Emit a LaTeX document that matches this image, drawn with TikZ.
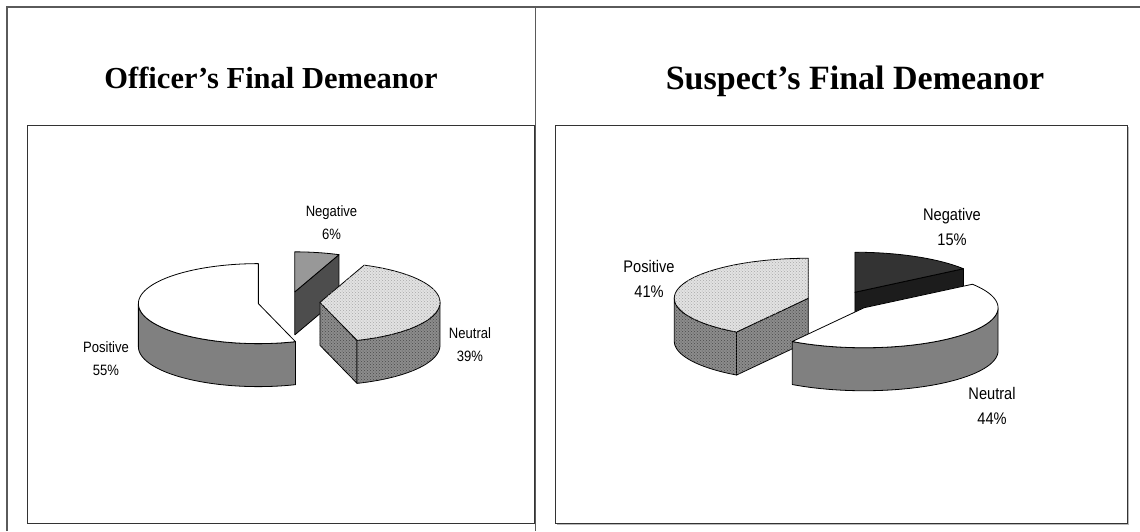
\documentclass[tikz,border=0pt]{standalone}
\usepackage{fontspec}
\setmainfont{Liberation Serif}
\newfontfamily\labelfont{Liberation Sans}
\usetikzlibrary{patterns}

\definecolor{tableline}{HTML}{5A5A5A}
\definecolor{frameline}{HTML}{333333}
\definecolor{dotlight}{HTML}{E2E2E2}
\definecolor{dotlightdots}{HTML}{A8A8A8}
\definecolor{dotdark}{HTML}{8C8C8C}
\definecolor{dotdarkdots}{HTML}{4A4A4A}
\definecolor{midtop}{HTML}{989898}
\definecolor{midside}{HTML}{4D4D4D}
\definecolor{darktop}{HTML}{333333}
\definecolor{darkside}{HTML}{1C1C1C}
\definecolor{plainside}{HTML}{808080}

\tikzset{
  edge/.style={draw=black, line width=0.8pt, line join=round},
  grid line/.style={draw=tableline, line width=1.5pt},
  chart frame/.style={draw=frameline, line width=1pt},
  dotted top/.style={fill=dotlight, postaction={pattern=crosshatch dots, pattern color=dotlightdots}},
  dotted side/.style={fill=dotdark, postaction={pattern=crosshatch dots, pattern color=dotdarkdots}},
  title text/.style={anchor=base, inner sep=0pt},
  pie label/.style={inner sep=0pt},
}

% pie geometry: centre, radii, depth, explosion
\newcommand\setpie[6]{\def\pcx{#1}\def\pcy{#2}\def\prx{#3}\def\pry{#4}\def\ph{#5}\def\pd{#6}}
% apex of an exploded slice spanning angles #1..#2 (clockwise from the back)
\newcommand\setapex[2]{%
  \pgfmathsetmacro\midang{(#1+#2)/2}%
  \pgfmathsetmacro\apx{\pcx+\pd*sin(\midang)}%
  \pgfmathsetmacro\apy{\pcy-\pd*cos(\midang)*\pry/\prx}}
\newcommand\topface[3]{%
  \path[edge,#3] (\apx,\apy) -- plot[domain=#1:#2,samples=90] ({\apx+\prx*sin(\x)},{\apy-\pry*cos(\x)}) -- cycle;}
\newcommand\rimface[3]{%
  \path[edge,#3] plot[domain=#1:#2,samples=90] ({\apx+\prx*sin(\x)},{\apy-\pry*cos(\x)})
    -- plot[domain=#2:#1,samples=90] ({\apx+\prx*sin(\x)},{\apy+\ph-\pry*cos(\x)}) -- cycle;}
\newcommand\cutface[2]{%
  \path[edge,#2] (\apx,\apy) -- ({\apx+\prx*sin(#1)},{\apy-\pry*cos(#1)}) -- ++(0,\ph)
    -- (\apx,{\apy+\ph}) -- cycle;}
% two-line slice label
\newcommand\slicelabel[4]{%
  {\labelfont\fontsize{#1}{#2}\selectfont\scalebox{#3}[1]{\begin{tabular}{@{}c@{}}#4\end{tabular}}}}

\begin{document}
\begin{tikzpicture}[x=1pt,y=-1pt]
\useasboundingbox (0,0) rectangle (1140,531);
\fill[white] (0,0) rectangle (1140,531);

% table rules
\draw[grid line] (7,531) -- (7,7) -- (1140,7);
\draw[grid line] (535.5,7) -- (535.5,531);

% chart frames
\draw[chart frame] (27,125) rectangle (534,523);
\draw[gray!55, line width=1pt] (557,524.5) -- (1128.5,524.5) -- (1128.5,127);
\draw[chart frame] (555,125) rectangle (1127,523);

% titles
\node[title text, font=\fontsize{30.5}{34}\selectfont\bfseries] (otitle) at (271,88) {Officer’s Final Demeanor};
\node[title text, font=\fontsize{34}{38}\selectfont\bfseries] (stitle) at (855,89) {Suspect’s Final Demeanor};

% ---- officer's pie ----
\setpie{289}{302}{120}{40}{43}{31}
% negative 6%
\setapex{0}{21.6}
\cutface{21.6}{fill=midside}
\topface{0}{21.6}{fill=midtop}
% neutral 39%
\setapex{21.6}{162}
\cutface{162}{dotted side}
\rimface{90}{162}{dotted side}
\topface{21.6}{162}{dotted top}
% positive 55%
\setapex{162}{360}
\rimface{162}{270}{fill=plainside}
\topface{162}{360}{fill=white}

\node[pie label] (oneg) at (331.5,223) {\slicelabel{15}{23}{0.87}{Negative\\6\%}};
\node[pie label] (oneu) at (470,345) {\slicelabel{15}{23}{0.87}{Neutral\\39\%}};
\node[pie label] (opos) at (106,359) {\slicelabel{15}{23}{0.87}{Positive\\55\%}};

% ---- suspect's pie ----
\setpie{840}{301}{134}{40}{43}{33}
% negative 15%
\setapex{0}{54}
\cutface{54}{fill=darkside}
\topface{0}{54}{fill=darktop}
% positive 41%
\setapex{212.4}{360}
\cutface{212.4}{dotted side}
\rimface{212.4}{270}{dotted side}
\topface{212.4}{360}{dotted top}
% neutral 44%
\setapex{54}{212.4}
\rimface{90}{212.4}{fill=plainside}
\topface{54}{212.4}{fill=white}

\node[pie label] (sneg) at (952,227.5) {\slicelabel{16.8}{25}{0.87}{Negative\\15\%}};
\node[pie label] (spos) at (649,280) {\slicelabel{16.8}{25}{0.87}{Positive\\41\%}};
\node[pie label] (sneu) at (992,407) {\slicelabel{16.8}{25}{0.87}{Neutral\\44\%}};
\end{tikzpicture}
\end{document}
